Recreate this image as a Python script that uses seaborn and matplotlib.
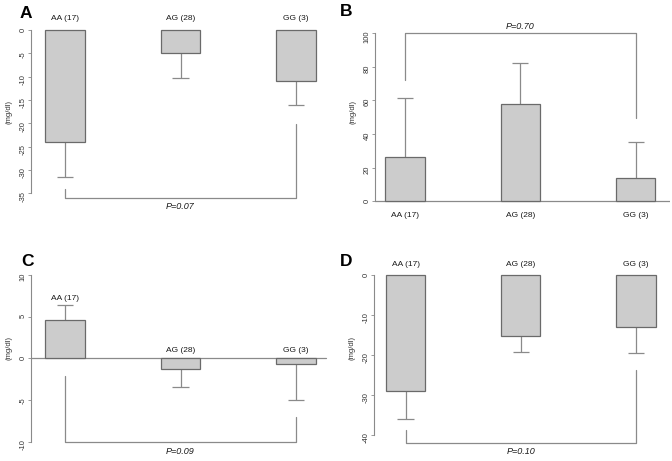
import numpy as np
import pandas as pd
import seaborn as sns
import matplotlib.pyplot as plt

# genotype groups (n)
groups = ['AA (17)', 'AG (28)', 'GG (3)']

# mean change and SE per panel
a_mean = [-24.0, -5.0, -11.0]
a_se = [7.5, 5.4, 5.2]
b_mean = [26.6, 58.1, 13.7]
b_se = [35.1, 24.0, 21.8]
c_mean = [4.58, -1.32, -0.72]
c_se = [1.76, 2.15, 4.27]
d_mean = [-28.9, -15.2, -13.1]
d_se = [7.1, 4.1, 6.5]

p_labels = ['P=0.07', 'P=0.70', 'P=0.09', 'P=0.10']
# bracket: level, end near AA, end near GG
a_bracket = [-36.0, -34.1, -20.1]
b_bracket = [100.0, 72.2, 49.4]
c_bracket = [-10.0, -2.08, -7.06]
d_bracket = [-41.9, -38.75, -23.75]

a_ticks = [0, -5, -10, -15, -20, -25, -30, -35]
b_ticks = [0, 20, 40, 60, 80, 100]
c_ticks = [-10, -5, 0, 5, 10]
d_ticks = [-40, -30, -20, -10, 0]

sns.set_theme(style='white')
plt.rcParams['font.family'] = ['Liberation Sans', 'DejaVu Sans']
plt.rcParams['axes.unicode_minus'] = False

BAR = '#CCCCCC'
EDGE = '#6A6A6A'
LINE = '#8A8A8A'
TXT = '#1A1A1A'

W, H = 672, 461
fig = plt.figure(figsize=(6.72, 4.61), dpi=100)


def panel(mean, se, ticks, bracket, ptext, box, c0, step, zero, ppu,
          label_y, p_y, letter, letter_xy, zero_line=None):
    left, right, top, bottom = box
    ax = fig.add_axes([left / W, 1 - bottom / H, (right - left) / W, (bottom - top) / H])
    ax.patch.set_alpha(0)
    df = pd.DataFrame({'group': groups, 'value': mean})
    if zero_line is not None:
        ax.plot([(left - c0) / step, zero_line], [0, 0], color=LINE, lw=0.9, zorder=1)
    sns.barplot(data=df, x='group', y='value', ax=ax, color=BAR, saturation=1,
                width=0.34, edgecolor=EDGE, linewidth=0.9, errorbar=None, zorder=2)

    # one-sided error bars away from zero
    x = np.arange(len(mean))
    m = np.array(mean)
    ends = m + np.sign(m) * np.array(se)
    ax.vlines(x, m, ends, color=LINE, lw=0.9, zorder=1)
    ax.hlines(ends, x - 0.07, x + 0.07, color=LINE, lw=0.9, zorder=1)

    # significance bracket
    lev, y0, y2 = bracket
    ax.plot([0, 0, 2, 2], [y0, lev, lev, y2], color=LINE, lw=0.9, zorder=1)
    ax.text(1, p_y, ptext, ha='center', va='center', fontsize=6.5,
            style='italic', color=TXT)

    for i, g in enumerate(groups):
        ax.text(i, label_y[i], g, ha='center', va='center', fontsize=6, color=TXT)

    ax.set_xlim((left - c0) / step, (right - c0) / step)
    ax.set_ylim((zero - bottom) / ppu, (zero - top) / ppu)
    ax.set_xticks([])
    ax.set_xlabel('')
    ax.set_yticks(ticks)
    ax.set_yticklabels([str(t) for t in ticks])
    ax.tick_params(axis='y', labelrotation=90, labelsize=5.5, length=2.2,
                   width=0.6, color=LINE, labelcolor='#333333', pad=0.8, left=True)
    for s in ['top', 'right', 'bottom']:
        ax.spines[s].set_visible(False)
    ax.spines['left'].set_bounds(min(ticks), max(ticks))
    ax.spines['left'].set_color(LINE)
    ax.spines['left'].set_linewidth(0.8)
    ax.set_ylabel('(mg/dl)', fontsize=5.5, color='#333333', labelpad=5)
    fig.text(letter_xy[0] / W, 1 - letter_xy[1] / H, letter, fontsize=12.5,
             fontweight='bold', ha='left', va='center', color='black')
    return ax


panel(a_mean, a_se, a_ticks, a_bracket, p_labels[0], (31, 330, 0, 225),
      65, 115.5, 30, 4.66, [2.4, 2.4, 2.4], -37.9, 'A', (20, 13))
panel(b_mean, b_se, b_ticks, b_bracket, p_labels[1], (375, 670, 0, 225),
      405, 115.3, 201.3, 1.68, [-8.2, -8.2, -8.2], 103.9, 'B', (340, 12),
      zero_line=(670 - 405) / 115.3)
panel(c_mean, c_se, c_ticks, c_bracket, p_labels[2], (31, 330, 235, 461),
      65, 115.5, 358.3, 8.36, [7.2, 0.9, 0.9], -11.2, 'C', (21, 261),
      zero_line=(326 - 65) / 115.5)
panel(d_mean, d_se, d_ticks, d_bracket, p_labels[3], (374, 670, 235, 461),
      405.5, 115.3, 275, 4.0, [2.7, 2.7, 2.7], -44.2, 'D', (340, 261))

fig.savefig('out.png', dpi=100)
